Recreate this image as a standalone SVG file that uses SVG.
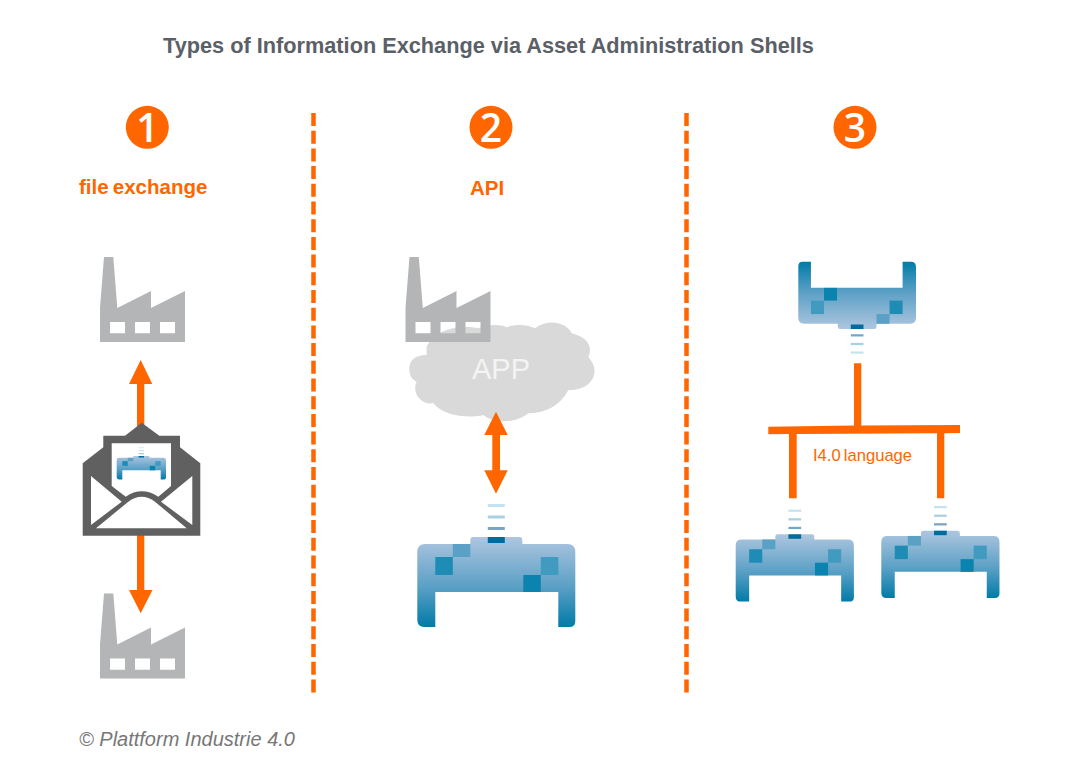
<svg xmlns="http://www.w3.org/2000/svg" xmlns:xlink="http://www.w3.org/1999/xlink" width="1080" height="771" viewBox="0 0 1080 771">
<style>
text{font-family:"Liberation Sans",Arial,sans-serif}
.or{fill:#ff6600}
.lab{fill:#ff6600;font-weight:bold;font-size:20.5px}
.dig{fill:#fff;font-family:"Open Sans",sans-serif;font-weight:600;font-size:39px;text-anchor:middle}
.fac{fill:#b4b5b6;fill-rule:evenodd}
.sep{stroke:#ff6600;stroke-width:4.5;stroke-dasharray:13 4.7;fill:none}
</style>
<defs>
<linearGradient id="sg" x1="0" y1="0" x2="0" y2="1">
<stop offset="0" stop-color="#aec6df"/><stop offset=".55" stop-color="#5ba0c6"/><stop offset="1" stop-color="#007ba6"/>
</linearGradient>
<path id="factory" class="fac" d="M0 85 V51 L4 0 H13.3 L17.3 51 L51 34 V51 L85 34 V85 Z M10 65 V76.3 H25 V65 Z M35 65 V76.3 H50 V65 Z M60 65 V76.3 H75 V65 Z"/>
<g id="shell">
<rect x="70.5" y="-33" width="17" height="3" fill="#c5e3ee"/>
<rect x="70.5" y="-21.5" width="17" height="3" fill="#a9d0e2"/>
<rect x="70.5" y="-10" width="17" height="3" fill="#7ba4c2"/>
<path fill="url(#sg)" d="M53 7 V3 Q53 0 56 0 H102 Q105 0 105 3 V7 H150 Q158 7 158 15 V84 Q158 90 152 90 H141 V55 H18 V90 H7 Q0 90 0 83 V15 Q0 7 8 7 Z"/>
<rect x="70.5" y="0" width="17" height="6" fill="#006c9c"/>
<rect x="35.5" y="7" width="17.5" height="13" fill="#5ba0c5"/>
<rect x="18" y="20" width="17.5" height="18" fill="#1f8cb5"/>
<rect x="106" y="38" width="17.5" height="17" fill="#0a84ae"/>
<rect x="123.5" y="20" width="17.5" height="18" fill="#419ac0"/>
</g>
</defs>
<rect width="1080" height="771" fill="#fff"/>
<text id="title" x="163" y="53" font-size="21.73" font-weight="bold" fill="#5b6067">Types of Information Exchange via Asset Administration Shells</text>

<g id="badge-1"><circle class="or" cx="147.3" cy="127.3" r="21.5"/><text class="dig" x="147.3" y="141.5">1</text></g>
<g id="badge-2"><circle class="or" cx="491" cy="127.3" r="21.5"/><text class="dig" x="491" y="141.5">2</text></g>
<g id="badge-3"><circle class="or" cx="855" cy="127.3" r="21.5"/><text class="dig" x="855" y="141.5">3</text></g>
<text class="lab" x="79" y="194" word-spacing="-1.5">file exchange</text>
<text class="lab" x="470" y="195">API</text>

<g id="separators">
<line class="sep" x1="313.5" y1="113" x2="313.5" y2="694"/>
<line class="sep" x1="686.5" y1="113" x2="686.5" y2="694"/>
</g>

<g id="cloud">
<path transform="translate(400 250) scale(.3333)" fill="#d9d9d9" d="M80 315 C40 315 28 335 28 360 C28 380 40 390 50 395 C35 425 60 465 100 460 C130 500 210 505 250 495 C280 522 350 520 385 490 C430 490 480 470 505 420 C570 420 590 380 582 350 C578 335 570 328 565 320 C580 290 560 260 515 250 C500 215 440 205 405 235 C380 222 345 222 320 232 C300 222 265 222 235 235 C190 225 110 230 80 290 Z"/>
<text x="501" y="379" font-size="29" fill="#f4f4f4" text-anchor="middle">APP</text>
</g>

<g id="connectors" class="or">
<path d="M140.7 360 L152.3 384 H144.3 V426 H137 V384 H129 Z"/>
<path d="M137 533 H144.3 V590 H152.5 L140.7 613.3 L129 590 H137 Z"/>
<path d="M496 411.7 L507.7 435 H500 V470.3 H507.7 L496 493.7 L484.3 470.3 H492.3 V435 H484.3 Z"/>
<path d="M854 363.3 H861.3 V425.5 L960 425 V433 L944.3 433.2 V498.3 H937 V433.3 L796.7 434 V498.3 H789 V434 L768.3 434.3 V426.7 L854 425.6 Z"/>
</g>

<g id="factory-1"><use xlink:href="#factory" href="#factory" x="100" y="257"/></g>
<g id="factory-2"><use xlink:href="#factory" href="#factory" x="100" y="593.5"/></g>

<g id="envelope">
<path fill="#606060" d="M82.7 463.3 L103.3 447.3 V435.7 H125 L141.7 422.7 L159.3 435.7 H180 V447.3 L200.3 463.3 V535.7 H82.7 Z"/>
<path fill="#fff" d="M111.7 443.3 H171 V486 L158.3 496.7 Q141.7 486 125.7 496.7 L111.7 486 Z"/>
<path fill="#fff" d="M91 476 L121.7 501.7 L91 525 Z M192.3 476 L161 501.7 L192.3 525 Z"/>
<path fill="#fff" d="M96 528.3 L128.3 501.7 Q141.7 492 155 501.7 L186.7 528.3 Z"/>
<use xlink:href="#shell" href="#shell" transform="translate(116.7 456) scale(.312 .26)"/>
</g>

<g id="factory-3"><use xlink:href="#factory" href="#factory" x="405.5" y="257"/></g>

<g id="shell-api"><use xlink:href="#shell" href="#shell" transform="translate(417.3 537)"/></g>
<g id="shell-top"><use xlink:href="#shell" href="#shell" transform="translate(916 329) scale(-.745 -.748)"/></g>
<g id="shell-left"><use xlink:href="#shell" href="#shell" transform="translate(735.7 534.3) scale(.748)"/></g>
<g id="shell-right"><use xlink:href="#shell" href="#shell" transform="translate(881.3 530.7) scale(.748)"/></g>

<text x="813" y="461" font-size="16.6" word-spacing="-1.5" fill="#ff6600">I4.0 language</text>
<text x="79" y="746" font-size="20" font-style="italic" fill="#777">© Plattform Industrie 4.0</text>
</svg>
